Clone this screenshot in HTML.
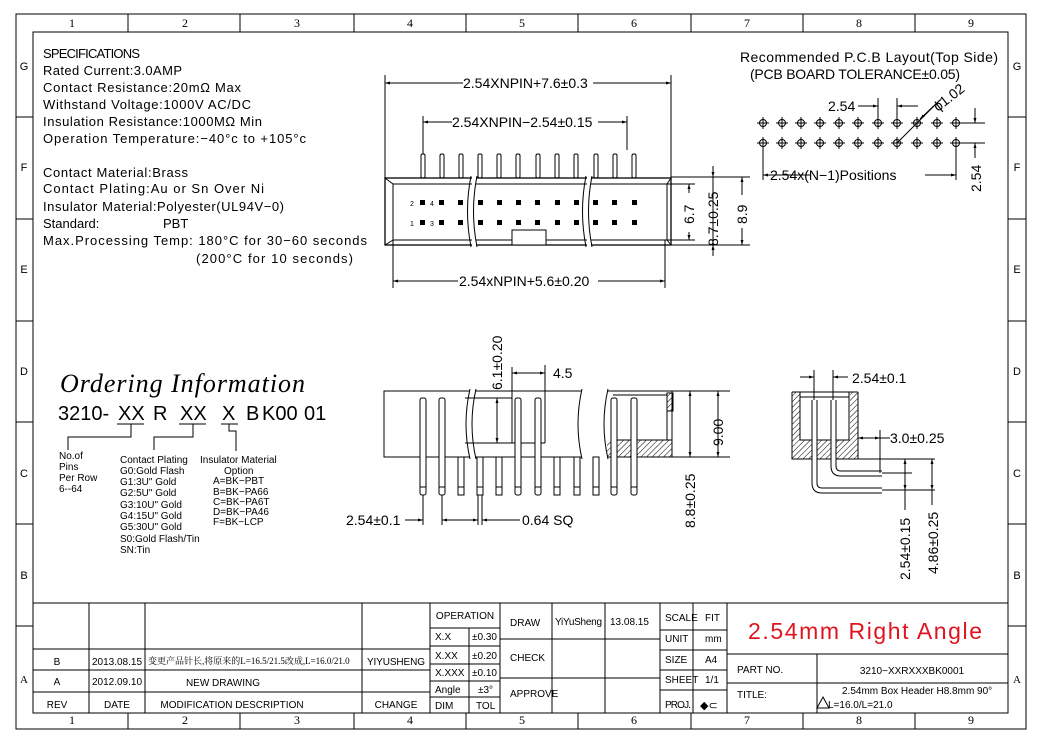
<!DOCTYPE html>
<html><head><meta charset="utf-8"><style>
body{margin:0;background:#fff;}
svg{display:block;font-family:"Liberation Sans","Noto Sans CJK SC",sans-serif;}
</style></head><body>
<svg width="1048" height="736" viewBox="0 0 1048 736" xmlns="http://www.w3.org/2000/svg">
<defs>
<pattern id="h" width="4" height="4" patternUnits="userSpaceOnUse" patternTransform="rotate(45)"><line x1="0" y1="0" x2="0" y2="4" stroke="#000" stroke-width="1"/></pattern>
<marker id="a" viewBox="0 0 10 10" refX="10" refY="5" markerWidth="7" markerHeight="5" orient="auto-start-reverse"><path d="M0,2 L10,5 L0,8z" fill="#000"/></marker>
</defs>
<rect width="1048" height="736" fill="#fff"/>
<g stroke="#000" fill="none" stroke-width="1">
<rect x="16" y="14" width="1010" height="715"/>
<rect x="33" y="32" width="975" height="681"/>
<path d="M128 14V32M240 14V32M354 14V32M466 14V32M578 14V32M691 14V32M803 14V32M915 14V32
M128 713V729M240 713V729M354 713V729M466 713V729M578 713V729M691 713V729M803 713V729M915 713V729
M16 117H33M16 219H33M16 321H33M16 422H33M16 524H33M16 626H33
M1008 117H1026M1008 219H1026M1008 321H1026M1008 422H1026M1008 524H1026M1008 626H1026"/>
</g>
<g font-size="12" text-anchor="middle" font-family="'Liberation Serif',serif">
<text x="72" y="27">1</text><text x="185" y="27">2</text><text x="297" y="27">3</text><text x="410" y="27">4</text><text x="522" y="27">5</text><text x="634" y="27">6</text><text x="747" y="27">7</text><text x="859" y="27">8</text><text x="971" y="27">9</text>
<text x="72" y="724">1</text><text x="185" y="724">2</text><text x="297" y="724">3</text><text x="410" y="724">4</text><text x="522" y="724">5</text><text x="634" y="724">6</text><text x="747" y="724">7</text><text x="859" y="724">8</text><text x="971" y="724">9</text>
</g>
<g font-size="11" text-anchor="middle">
<text x="24" y="70">G</text><text x="24" y="171">F</text><text x="24" y="273">E</text><text x="24" y="375">D</text><text x="24" y="477">C</text><text x="24" y="579">B</text><text x="24" y="683" font-family="'Liberation Serif',serif">A</text>
<text x="1017" y="70">G</text><text x="1017" y="171">F</text><text x="1017" y="273">E</text><text x="1017" y="375">D</text><text x="1017" y="477">C</text><text x="1017" y="579">B</text><text x="1017" y="683" font-family="'Liberation Serif',serif">A</text>
</g>

<g font-size="13">
<text x="43" y="58" textLength="97">SPECIFICATIONS</text>
<text x="43" y="75" textLength="139">Rated Current:3.0AMP</text>
<text x="43" y="92" textLength="198">Contact Resistance:20mΩ Max</text>
<text x="43" y="109" textLength="208">Withstand Voltage:1000V AC/DC</text>
<text x="43" y="126" textLength="219">Insulation Resistance:1000MΩ Min</text>
<text x="43" y="143" textLength="263">Operation Temperature:−40°c to +105°c</text>
<text x="43" y="177" textLength="145">Contact Material:Brass</text>
<text x="43" y="193" textLength="221">Contact Plating:Au or Sn Over Ni</text>
<text x="43" y="211" textLength="241">Insulator Material:Polyester(UL94V−0)</text>
<text x="43" y="228">Standard:</text><text x="163" y="228">PBT</text>
<text x="43" y="245" textLength="324">Max.Processing Temp: 180°C for 30−60 seconds</text>
<text x="196" y="263" textLength="157">(200°C for 10 seconds)</text>
</g>

<text x="60" y="392" font-family="'Liberation Serif',serif" font-style="italic" font-size="26" textLength="245">Ordering Information</text>
<g font-size="20">
<text x="58" y="420">3210-</text><text x="118" y="420">XX</text><text x="153" y="420">R</text><text x="180" y="420">XX</text><text x="222" y="420">X</text><text x="246" y="420">B</text><text x="262" y="420">K00</text><text x="304" y="420">01</text>
</g>
<g stroke="#000" fill="none"><path d="M117 424H144M179 424H206M221 424H238M131 424V437H68V450M193 424V437H154V450M229 424V431H236V451"/></g>
<g font-size="10">
<text x="59" y="459">No.of</text><text x="59" y="470">Pins</text><text x="59" y="481">Per Row</text><text x="59" y="492">6--64</text>
<text x="120" y="463">Contact Plating</text><text x="120" y="474">G0:Gold Flash</text><text x="120" y="485">G1:3U" Gold</text><text x="120" y="496">G2:5U" Gold</text><text x="120" y="508">G3:10U" Gold</text><text x="120" y="519">G4:15U" Gold</text><text x="120" y="530">G5:30U" Gold</text><text x="120" y="542">S0:Gold Flash/Tin</text><text x="120" y="553">SN:Tin</text>
<text x="200" y="463">Insulator Material</text><text x="224" y="474">Option</text><text x="213" y="484">A=BK−PBT</text><text x="213" y="495">B=BK−PA66</text><text x="213" y="505">C=BK−PA6T</text><text x="213" y="515">D=BK−PA46</text><text x="213" y="525">F=BK−LCP</text>
</g>

<g stroke="#000" fill="none" stroke-width="1">
<path d="M385 75V178M671 75V178"/>
<line x1="385" y1="83" x2="463" y2="83" marker-start="url(#a)"/><line x1="593" y1="83" x2="671" y2="83" marker-end="url(#a)"/>
<path d="M423 116V154M627 116V150"/>
<line x1="423" y1="122" x2="452" y2="122" marker-start="url(#a)"/><line x1="598" y1="122" x2="627" y2="122" marker-end="url(#a)"/>
<g fill="#fff">
<rect x="421" y="154" width="4" height="24" rx="1.5"/><rect x="440" y="154" width="4" height="24" rx="1.5"/><rect x="459" y="154" width="4" height="24" rx="1.5"/><rect x="478" y="154" width="4" height="24" rx="1.5"/><rect x="497" y="154" width="4" height="24" rx="1.5"/><rect x="516" y="154" width="4" height="24" rx="1.5"/><rect x="536" y="154" width="4" height="24" rx="1.5"/><rect x="555" y="154" width="4" height="24" rx="1.5"/><rect x="574" y="154" width="4" height="24" rx="1.5"/><rect x="594" y="154" width="4" height="24" rx="1.5"/><rect x="613" y="154" width="4" height="24" rx="1.5"/><rect x="632" y="154" width="4" height="24" rx="1.5"/>
</g>
<rect x="385" y="178" width="286" height="67" stroke-width="1.3"/>
<rect x="393" y="184" width="274" height="56"/>
<path d="M385 178L393 184M671 178L667 184M385 245L393 240M671 245L667 240"/>
<rect x="512" y="230" width="34" height="15" fill="#fff"/>
</g>
<rect x="472" y="176" width="4" height="71" fill="#fff"/>
<rect x="587" y="176" width="4" height="71" fill="#fff"/>
<g stroke="#000" fill="none"><path d="M471 176Q464 211 471 247M477 176Q470 211 477 247M586 176Q579 211 586 247M592 176Q585 211 592 247"/></g>
<g fill="#000">
<rect x="420" y="200" width="5" height="5"/><rect x="439" y="200" width="5" height="5"/><rect x="458" y="200" width="5" height="5"/><rect x="478" y="200" width="5" height="5"/><rect x="497" y="200" width="5" height="5"/><rect x="516" y="200" width="5" height="5"/><rect x="535" y="200" width="5" height="5"/><rect x="555" y="200" width="5" height="5"/><rect x="574" y="200" width="5" height="5"/><rect x="593" y="200" width="5" height="5"/><rect x="612" y="200" width="5" height="5"/><rect x="632" y="200" width="5" height="5"/>
<rect x="420" y="220" width="5" height="5"/><rect x="439" y="220" width="5" height="5"/><rect x="458" y="220" width="5" height="5"/><rect x="478" y="220" width="5" height="5"/><rect x="497" y="220" width="5" height="5"/><rect x="516" y="220" width="5" height="5"/><rect x="535" y="220" width="5" height="5"/><rect x="555" y="220" width="5" height="5"/><rect x="574" y="220" width="5" height="5"/><rect x="593" y="220" width="5" height="5"/><rect x="612" y="220" width="5" height="5"/><rect x="632" y="220" width="5" height="5"/>
</g>
<g font-size="7"><text x="410" y="206">2</text><text x="430" y="206">4</text><text x="410" y="226">1</text><text x="430" y="226">3</text></g>
<g stroke="#000" fill="none">
<path d="M671 177H750M667 184H695M671 245H750M667 240H695"/>
<line x1="689" y1="193" x2="689" y2="184" marker-end="url(#a)"/><line x1="689" y1="232" x2="689" y2="240" marker-end="url(#a)"/>
<line x1="713" y1="166" x2="713" y2="177" marker-end="url(#a)"/><line x1="713" y1="256" x2="713" y2="245" marker-end="url(#a)"/><path d="M713 177V245"/>
<line x1="742" y1="195" x2="742" y2="177" marker-end="url(#a)"/><line x1="742" y1="228" x2="742" y2="245" marker-end="url(#a)"/>
<path d="M393 240V288M665 240V288"/>
<line x1="393" y1="281" x2="458" y2="281" marker-start="url(#a)"/><line x1="598" y1="281" x2="665" y2="281" marker-end="url(#a)"/>
</g>
<g font-size="14">
<text x="463" y="88">2.54XNPIN+7.6±0.3</text>
<text x="452" y="127">2.54XNPIN−2.54±0.15</text>
<text x="459" y="286">2.54xNPIN+5.6±0.20</text>
<text transform="translate(694,224) rotate(-90)">6.7</text>
<text transform="translate(718,246) rotate(-90)">8.7±0.25</text>
<text transform="translate(747,224) rotate(-90)">8.9</text>
</g>

<g font-size="14">
<text x="740" y="62" textLength="258">Recommended P.C.B Layout(Top Side)</text>
<text x="750" y="79" textLength="210">(PCB BOARD TOLERANCE±0.05)</text>
<text x="828" y="111">2.54</text>
<text x="770" y="180">2.54x(N−1)Positions</text>
<text transform="translate(981,192) rotate(-90)">2.54</text>
<text transform="translate(938,112) rotate(-38)">ϕ1.02</text>
</g>
<g stroke="#000" fill="none">
<path d="M858 106H874M898 106H918M878 98V122M897 98V122"/>
<line x1="860" y1="106" x2="878" y2="106" marker-end="url(#a)"/><line x1="915" y1="106" x2="897" y2="106" marker-end="url(#a)"/>
<line x1="897" y1="143" x2="940" y2="100"/>
<line x1="940" y1="100" x2="920" y2="119" marker-end="url(#a)"/>
<path d="M763 148V180M956 148V180M956 123H985M956 143H985"/>
<line x1="810" y1="175" x2="763" y2="175" marker-end="url(#a)"/><line x1="925" y1="175" x2="956" y2="175" marker-end="url(#a)"/>
<line x1="975" y1="108" x2="975" y2="123" marker-end="url(#a)"/><line x1="975" y1="158" x2="975" y2="143" marker-end="url(#a)"/>
</g>
<g stroke="#000" fill="none">
<g id="r1">
<circle cx="763" cy="123" r="3.5"/><circle cx="782" cy="123" r="3.5"/><circle cx="801" cy="123" r="3.5"/><circle cx="820" cy="123" r="3.5"/><circle cx="839" cy="123" r="3.5"/><circle cx="858" cy="123" r="3.5"/><circle cx="878" cy="123" r="3.5"/><circle cx="897" cy="123" r="3.5"/><circle cx="917" cy="123" r="3.5"/><circle cx="937" cy="123" r="3.5"/><circle cx="956" cy="123" r="3.5"/>
<path d="M757 123h12M776 123h12M795 123h12M814 123h12M833 123h12M852 123h12M872 123h12M891 123h12M911 123h12M931 123h12M950 123h12M763 117v12M782 117v12M801 117v12M820 117v12M839 117v12M858 117v12M878 117v12M897 117v12M917 117v12M937 117v12M956 117v12"/>
</g>
<use href="#r1" y="20"/>
</g>

<g stroke="#000" fill="none">
<path d="M470 391H384V457H470M475 391H582M475 457H582M607 391H723M607 457H723M672 391V457"/>
<path d="M470 389Q462 424 470 459M476 389Q468 424 476 459M582 389Q574 424 582 459M608 389Q600 424 608 459"/>
<rect x="607" y="440" width="65" height="17" fill="url(#h)" stroke="none"/>
<rect x="667" y="393" width="6" height="18" fill="url(#h)"/>
<path d="M613 395H667M613 440H672M667 411V440"/>
<path d="M497 398V443M465 443H545M465 398H512"/>
<line x1="497" y1="420" x2="497" y2="398" marker-end="url(#a)"/><line x1="497" y1="420" x2="497" y2="443" marker-end="url(#a)"/>
<path d="M512 367V443M545 365V443"/>
<line x1="530" y1="373" x2="512" y2="373" marker-end="url(#a)"/><line x1="530" y1="373" x2="545" y2="373" marker-end="url(#a)"/>
<path d="M672 391H730M672 457H730"/>
<line x1="718" y1="424" x2="718" y2="391" marker-end="url(#a)"/><line x1="718" y1="424" x2="718" y2="457" marker-end="url(#a)"/>
<line x1="690" y1="424" x2="690" y2="391" marker-end="url(#a)"/><line x1="690" y1="424" x2="690" y2="457" marker-end="url(#a)"/>
<g fill="#fff">
<rect x="420" y="398" width="6" height="97" rx="2"/><rect x="439" y="398" width="6" height="97" rx="2"/><rect x="515" y="398" width="6" height="97" rx="2"/><rect x="535" y="398" width="6" height="97" rx="2"/><rect x="611" y="398" width="6" height="97" rx="2"/><rect x="631" y="398" width="6" height="97" rx="2"/>
<rect x="458" y="457" width="6" height="38"/><rect x="477" y="457" width="6" height="38"/><rect x="496" y="457" width="6" height="38"/><rect x="554" y="457" width="6" height="38"/><rect x="574" y="457" width="6" height="38"/><rect x="593" y="457" width="6" height="38"/>
</g>
<path d="M420 487h6M439 487h6M515 487h6M535 487h6M611 487h6M631 487h6M458 487h6M477 487h6M496 487h6M554 487h6M574 487h6M593 487h6"/>
<path d="M423 495V525M442 495V525M478 495V525M482 495V525"/>
<line x1="405" y1="520" x2="423" y2="520" marker-end="url(#a)"/><line x1="462" y1="520" x2="442" y2="520" marker-end="url(#a)"/>
<line x1="462" y1="520" x2="478" y2="520" marker-end="url(#a)"/><line x1="500" y1="520" x2="482" y2="520" marker-end="url(#a)"/><path d="M500 520H520"/>
</g>
<g font-size="14">
<text transform="translate(502,390) rotate(-90)">6.1±0.20</text>
<text x="553" y="378">4.5</text>
<text transform="translate(723,446) rotate(-90)">9.00</text>
<text transform="translate(695,528) rotate(-90)">8.8±0.25</text>
<text x="346" y="525">2.54±0.1</text>
<text x="522" y="525">0.64 SQ</text>
</g>

<g stroke="#000" fill="none">
<path d="M792 392V459H858V392M800 392V440H849V392M792 392H858M800 397H849" />
<rect x="792" y="392" width="8" height="67" fill="url(#h)" stroke="none"/>
<rect x="850" y="392" width="8" height="67" fill="url(#h)" stroke="none"/>
<rect x="800" y="440" width="50" height="19" fill="url(#h)" stroke="none"/>
<rect x="812" y="400" width="5" height="60" fill="#fff" stroke="none"/>
<rect x="831" y="400" width="5" height="60" fill="#fff" stroke="none"/>
<path d="M812 400V483Q812 493 822 493H882M817 400V483Q817 488 822 488H882M831 400V466Q831 476 841 476H882M836 400V466Q836 471 841 471H882"/>
<path d="M814 370V400M833 370V400"/>
<line x1="800" y1="377" x2="814" y2="377" marker-end="url(#a)"/><line x1="848" y1="377" x2="833" y2="377" marker-end="url(#a)"/>
<path d="M858 459H935M882 473H912M882 490H935M880 430V473"/>
<line x1="870" y1="438" x2="858" y2="438" marker-end="url(#a)"/><line x1="870" y1="438" x2="880" y2="438" marker-end="url(#a)"/><path d="M880 438H890"/>
<line x1="905" y1="475" x2="905" y2="459" marker-end="url(#a)"/><line x1="905" y1="475" x2="905" y2="490" marker-end="url(#a)"/><path d="M905 490V510"/>
<line x1="932" y1="475" x2="932" y2="459" marker-end="url(#a)"/><line x1="932" y1="475" x2="932" y2="490" marker-end="url(#a)"/><path d="M932 490V505"/>
</g>
<g font-size="14">
<text x="852" y="383">2.54±0.1</text>
<text x="890" y="443">3.0±0.25</text>
<text transform="translate(910,580) rotate(-90)">2.54±0.15</text>
<text transform="translate(938,574) rotate(-90)">4.86±0.25</text>
</g>

<g stroke="#000" fill="none">
<path d="M33 603H1008M33 649H430M33 670H430M33 692H430M89 603V713M145 603V713M362 603V713M430 603V713M500 603V713M469 628V713M430 628H500M430 646H500M430 664H500M430 681H500M430 697H500"/>
<path d="M500 639H660M500 678H660M552 603V713M605 603V713M660 603V713M693 603V713M727 603V713M660 630H727M660 650H727M660 670H727M660 690H727M727 654H1008M727 683H1008M817 654V713"/>
</g>
<g font-size="10" font-family="'Liberation Sans Narrow','Liberation Sans',sans-serif">
<text x="57" y="665" text-anchor="middle">B</text><text x="57" y="685" text-anchor="middle">A</text><text x="57" y="708" text-anchor="middle">REV</text>
<text x="117" y="665" text-anchor="middle">2013.08.15</text><text x="117" y="685" text-anchor="middle">2012.09.10</text><text x="117" y="708" text-anchor="middle">DATE</text>
<text x="148" y="664" font-size="9" font-family="'Liberation Serif','Noto Serif CJK SC',serif">变更产品针长,将原来的L=16.5/21.5改成,L=16.0/21.0</text>
<text x="223" y="686" text-anchor="middle">NEW DRAWING</text><text x="232" y="708" text-anchor="middle">MODIFICATION DESCRIPTION</text>
<text x="396" y="665" text-anchor="middle" textLength="58">YIYUSHENG</text><text x="396" y="708" text-anchor="middle">CHANGE</text>
<text x="465" y="619" text-anchor="middle">OPERATION</text>
<text x="435" y="640">X.X</text><text x="472" y="640">±0.30</text>
<text x="435" y="659">X.XX</text><text x="472" y="659">±0.20</text>
<text x="435" y="676">X.XXX</text><text x="472" y="676">±0.10</text>
<text x="435" y="693">Angle</text><text x="478" y="693">±3°</text>
<text x="435" y="709">DIM</text><text x="476" y="709">TOL</text>
<text x="510" y="626">DRAW</text><text x="510" y="661">CHECK</text><text x="510" y="697">APPROVE</text>
<text x="555" y="625" textLength="47">YiYuSheng</text><text x="610" y="625">13.08.15</text>
<text x="665" y="621">SCALE</text><text x="705" y="621">FIT</text>
<text x="665" y="642">UNIT</text><text x="705" y="642">mm</text>
<text x="665" y="663">SIZE</text><text x="705" y="663">A4</text>
<text x="665" y="683">SHEET</text><text x="705" y="683">1/1</text>
<text x="665" y="708" textLength="26">PROJ.</text><text x="700" y="709" font-size="11">◆⊂</text>
<text x="737" y="673">PART NO.</text><text x="912" y="674" text-anchor="middle">3210−XXRXXXBK0001</text>
<text x="737" y="698">TITLE:</text>
<text x="842" y="694">2.54mm Box Header H8.8mm 90°</text>
<text x="828" y="708">L=16.0/L=21.0</text>
</g>
<path d="M817 708L823 697L829 708Z" fill="none" stroke="#000"/>
<text x="748" y="639" font-size="23" fill="#e0141e" textLength="234">2.54mm Right Angle</text>
</svg>
</body></html>
